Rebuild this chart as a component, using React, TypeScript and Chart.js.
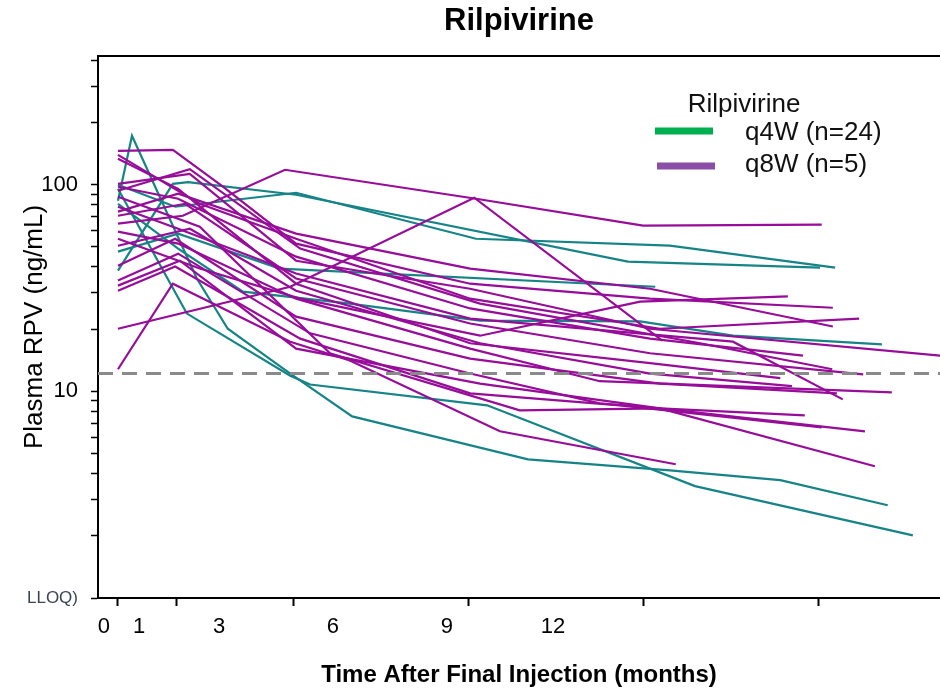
import React, { useEffect, useRef } from 'react';
import { Chart, registerables } from 'chart.js';

Chart.register(...registerables);

const FONT = "'Liberation Sans', Arial, Helvetica, sans-serif";

const TITLE = 'Rilpivirine';
const X_TITLE = 'Time After Final Injection (months)';
const Y_TITLE = 'Plasma RPV (ng/mL)';
const LEGEND_TITLE = 'Rilpivirine';
const LEGEND_LABELS = ['q4W (n=24)', 'q8W (n=5)'];
const LEGEND_COLORS = ['#00b050', '#8b4ea6'];

const TEAL = '#168486';
const PURPLE = '#970c99';

const X_MIN = -0.342;
const X_MAX = 14.075;
const X_TICK_MARKS = [0, 1, 3, 6, 9, 12];
const X_TICK_LABELS = ['0', '1', '3', '6', '9', '12'];
const X_LABEL_AT = [-0.24, 0.36, 1.73, 3.68, 5.63, 7.45];

const Y_MIN = 1;
const Y_MAX = 420;
const Y_TICKS = [1, 2, 3, 4, 5, 6, 7, 8, 9, 10, 20, 30, 40, 50, 60, 70, 80, 90, 100, 200, 300, 400];
const Y_LABELS: Record<string, string> = { '1': 'LLOQ)', '10': '10', '100': '100' };

const THRESHOLD = 12.2;

// [month, ng/mL] per participant
const TEAL_SUBJECTS: number[][][] = [
  [[0, 100], [0.98, 78.3], [3.05, 91.5], [6.13, 54.8], [9.45, 50.7], [12.28, 39.7]],
  [[0, 38.4], [0.94, 101], [1.2, 103], [3.05, 89.5], [8.73, 42.5], [12.02, 39.7]],
  [[0, 47.5], [1.03, 58], [2.77, 39.3], [9.2, 32.1]],
  [[0, 80.9], [1.03, 49.1], [1.8, 35.2], [2.14, 30.4], [3.97, 26.6], [6.2, 22], [8.94, 21.8], [10.53, 18.6], [13.08, 16.9]],
  [[0, 83.7], [0.24, 172.5], [1.35, 35.2], [1.88, 20.1], [2.95, 12.2], [4.01, 7.57], [7.02, 4.69], [9.45, 4.15], [11.34, 3.72], [13.18, 2.81]],
  [[0, 95.6], [1.18, 23.8], [2.95, 11.9], [3.29, 10.8], [6.32, 8.56], [9.88, 3.48], [13.61, 2.01]],
];

const PURPLE_SUBJECTS: number[][][] = [
  [[0, 146], [0.94, 147.6], [1.78, 98.9], [3.05, 51.9], [6.03, 33.2], [9.11, 28.1], [12.24, 25.4]],
  [[0, 139.6], [1.4, 80.9], [3.05, 54.8], [6.03, 28.1], [9.28, 20.1], [12.69, 22.5]],
  [[0, 64.8], [1.11, 70.8], [2.86, 118.2], [6.13, 85.6], [8.99, 63.4], [12.05, 64.1]],
  [[0, 20.1], [2.95, 32.1], [6.1, 86.6], [9.32, 17.6]],
  [[0, 12.8], [0.94, 33.2], [2.95, 17.4], [3.97, 14.1], [6.54, 6.41], [9.55, 4.44]],
  [[0, 101.1], [1.23, 113], [3.05, 42.9], [6.03, 31.4], [9.11, 20.1], [14.08, 14.9]],
  [[0, 97.8], [1.03, 85.6], [3.05, 44.9], [6.03, 25.2], [9.11, 18], [11.73, 14.9]],
  [[0, 93.5], [1.23, 119], [3.12, 49.1], [6.2, 26.6], [9.97, 17.1], [12.23, 12.8]],
  [[0, 78.3], [1.03, 61.3], [3.05, 37.2], [6.03, 22.5], [10.53, 17.4], [12.41, 9.15]],
  [[0, 70.8], [1.15, 80.9], [3.05, 35.2], [6.03, 21.3], [9.11, 15.3], [12.76, 12.1]],
  [[0, 59.3], [1.03, 51.9], [3.05, 28.1], [6.03, 16.1], [8.25, 11.2], [13.25, 9.89]],
  [[0, 50.7], [1.23, 61.3], [3.05, 30.7], [6.2, 17.1], [9.11, 12.2], [11.54, 10.6]],
  [[0, 40.6], [0.98, 54.8], [3.05, 23], [6.03, 14.4], [9.28, 10.9], [12.31, 9.78]],
  [[0, 34.4], [1.03, 46.4], [3.29, 19.1], [6.03, 12.2], [8.25, 8.75], [9.28, 8.28], [11.76, 7.66]],
  [[0, 32.5], [1.06, 42.9], [3.05, 16.1], [6.2, 10.9], [9.28, 8.28], [12.79, 6.41]],
  [[0, 30.7], [0.98, 40.2], [3.12, 18], [6.03, 9.78], [8.6, 8.56], [12.05, 6.7]],
  [[0, 87.5], [1.4, 62.7], [3.63, 15.3], [6.88, 8.09], [9.28, 8.28], [12.96, 4.34]],
  [[0, 133.5], [1.03, 95.6], [3.05, 33.2], [6.03, 17.1], [9.11, 13.7], [11.34, 11.6]],
  [[0, 54.8], [1.4, 39.3], [3.12, 28.1], [6.2, 18.6], [8.94, 27.2], [11.47, 28.8]],
  [[0, 74.1], [1.03, 90.5], [3.05, 58], [6.03, 39.3], [9.11, 31.4], [12.24, 20.6]],
];

const toPoints = (s: number[][]) => s.map(([x, y]) => ({ x, y }));

const decorPlugin = {
  id: 'decor',
  afterDraw(chart: any) {
    const { ctx, chartArea } = chart;
    ctx.save();
    // top frame line
    ctx.strokeStyle = '#000';
    ctx.lineWidth = 2;
    ctx.beginPath();
    ctx.moveTo(chartArea.left - 1, chartArea.top);
    ctx.lineTo(chartArea.right, chartArea.top);
    ctx.stroke();

    // legend
    ctx.fillStyle = '#111';
    ctx.font = `26px ${FONT}`;
    ctx.textBaseline = 'middle';
    ctx.textAlign = 'center';
    ctx.fillText(LEGEND_TITLE, 744, 105);
    ctx.textAlign = 'left';
    const rows = [131, 166];
    LEGEND_LABELS.forEach((label, i) => {
      ctx.strokeStyle = LEGEND_COLORS[i];
      ctx.lineWidth = 7;
      ctx.beginPath();
      ctx.moveTo(655 + i * 2, rows[i]);
      ctx.lineTo(713 + i * 2, rows[i]);
      ctx.stroke();
      ctx.fillStyle = '#111';
      ctx.fillText(label, 745, rows[i] + 2 - i * 3);
    });
    ctx.restore();
  },
};

export default function App() {
  const ref = useRef<HTMLCanvasElement | null>(null);

  useEffect(() => {
    if (!ref.current) return;
    const datasets: any[] = [
      {
        data: [{ x: X_MIN, y: THRESHOLD }, { x: X_MAX, y: THRESHOLD }],
        borderColor: '#8a8a8a',
        borderWidth: 3,
        borderDash: [15, 9],
        pointRadius: 0,
      },
      ...PURPLE_SUBJECTS.map((s) => ({
        data: toPoints(s),
        borderColor: PURPLE,
        borderWidth: 2.2,
        pointRadius: 0,
        tension: 0,
      })),
      ...TEAL_SUBJECTS.map((s) => ({
        data: toPoints(s),
        borderColor: TEAL,
        borderWidth: 2.2,
        pointRadius: 0,
        tension: 0,
      })),
    ];

    const chart = new Chart(ref.current, {
      type: 'line',
      data: { datasets },
      plugins: [decorPlugin],
      options: {
        responsive: false,
        animation: false,
        devicePixelRatio: 1,
        layout: { padding: 0 },
        events: [],
        plugins: {
          legend: { display: false },
          tooltip: { enabled: false },
          title: {
            display: true,
            text: TITLE,
            fullSize: false,
            color: '#000',
            font: { family: FONT, size: 31, weight: 'bold' },
            padding: { top: 3, bottom: 15.8 },
          },
        },
        scales: {
          x: {
            type: 'linear',
            position: 'bottom',
            min: X_MIN,
            max: X_MAX,
            weight: 0,
            afterBuildTicks: (s: any) => {
              s.ticks = X_TICK_MARKS.map((v) => ({ value: v }));
            },
            afterFit: (s: any) => {
              s.height = 8;
              s.paddingLeft = 0;
              s.paddingRight = 0;
            },
            ticks: { display: false },
            grid: {
              display: true,
              drawOnChartArea: false,
              drawTicks: true,
              tickLength: 8,
              tickColor: '#000',
              tickWidth: 2,
            },
            border: { display: true, color: '#000', width: 2 },
          },
          x2: {
            type: 'linear',
            axis: 'x',
            position: 'bottom',
            min: X_MIN,
            max: X_MAX,
            weight: 1,
            afterBuildTicks: (s: any) => {
              s.ticks = X_LABEL_AT.map((v) => ({ value: v }));
            },
            afterFit: (s: any) => {
              s.height = 85;
              s.paddingLeft = 0;
              s.paddingRight = 0;
            },
            ticks: {
              autoSkip: false,
              maxRotation: 0,
              padding: 8,
              color: '#000',
              font: { family: FONT, size: 22 },
              callback: (_v: any, i: number) => X_TICK_LABELS[i],
            },
            grid: { display: false, drawTicks: false },
            border: { display: false },
            title: {
              display: true,
              text: X_TITLE,
              color: '#000',
              font: { family: FONT, size: 24, weight: 'bold' },
              padding: { top: 0, bottom: 1 },
            },
          },
          y: {
            type: 'logarithmic',
            min: Y_MIN,
            max: Y_MAX,
            afterBuildTicks: (s: any) => {
              s.ticks = Y_TICKS.map((v) => ({ value: v }));
            },
            afterFit: (s: any) => {
              s.width = 98;
              s.paddingTop = 0;
              s.paddingBottom = 0;
            },
            ticks: {
              autoSkip: false,
              padding: 13,
              callback: (v: any) => Y_LABELS[String(v)] ?? '',
              font: (ctx: any) =>
                ctx.tick && ctx.tick.value === 1
                  ? { family: FONT, size: 17 }
                  : { family: FONT, size: 22 },
              color: (ctx: any) => (ctx.tick && ctx.tick.value === 1 ? '#3a4454' : '#000'),
            },
            grid: {
              display: true,
              drawOnChartArea: false,
              drawTicks: true,
              tickLength: 7,
              tickColor: '#000',
              tickWidth: 1.5,
            },
            border: { display: true, color: '#000', width: 2 },
            title: {
              display: true,
              text: Y_TITLE,
              color: '#000',
              font: { family: FONT, size: 26 },
              padding: { top: 19, bottom: 0 },
            },
          },
        },
      } as any,
    });
    return () => chart.destroy();
  }, []);

  return (
    <div style={{ position: 'fixed', left: 0, top: 0, width: 940, height: 691, background: '#fff' }}>
      <canvas ref={ref} width={940} height={691} style={{ width: 940, height: 691, display: 'block' }} />
    </div>
  );
}
